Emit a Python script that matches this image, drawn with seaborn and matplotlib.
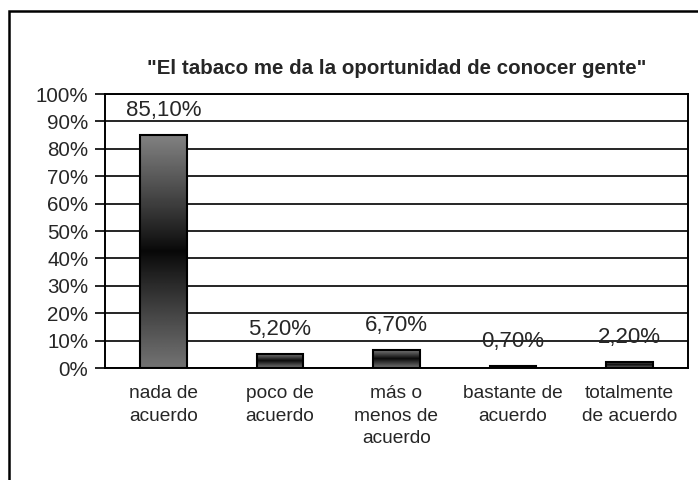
import numpy as np
import pandas as pd
import matplotlib
matplotlib.use("Agg")
import matplotlib.pyplot as plt
import seaborn as sns
from matplotlib.patches import Rectangle
from matplotlib.ticker import FuncFormatter, FixedLocator

# Chart data
title = '"El tabaco me da la oportunidad de conocer gente"'
categories = ["nada de\nacuerdo", "poco de\nacuerdo", "más o\nmenos de\nacuerdo",
              "bastante de\nacuerdo", "totalmente\nde acuerdo"]
values = [85.1, 5.2, 6.7, 0.7, 2.2]
value_labels = ["85,10%", "5,20%", "6,70%", "0,70%", "2,20%"]
y_ticks = list(range(0, 101, 10))

df = pd.DataFrame({"categoria": categories, "porcentaje": values})

sns.set_style("white")
plt.rcParams["font.family"] = ["Liberation Sans", "DejaVu Sans"]

W, H = 698, 480
fig = plt.figure(figsize=(W / 100, H / 100), dpi=100)
ax = fig.add_axes([105 / W, 1 - 368 / H, (688 - 105) / W, (368 - 94) / H])

sns.barplot(data=df, x="categoria", y="porcentaje", ax=ax, width=0.4,
            color="gray", edgecolor="black", linewidth=1.5, zorder=3)

# vertical gradient inside each bar: gray -> black -> gray
t = np.linspace(1, -1, 256)
shade = 0.03 + np.where(t > 0, 0.48, 0.42) * np.abs(t) ** 0.9
grad = shade.reshape(-1, 1)
for p in ax.patches:
    x0, y0 = p.get_x(), p.get_y()
    x1, y1 = x0 + p.get_width(), y0 + p.get_height()
    im = ax.imshow(grad, extent=[x0, x1, y0, y1], aspect="auto", cmap="gray",
                   vmin=0, vmax=1, origin="upper", zorder=2.5, interpolation="bilinear")
    im.set_clip_path(p)
    p.set_facecolor("none")

for i, (v, lab) in enumerate(zip(values, value_labels)):
    ax.annotate(lab, (i, v), xytext=(0, 10), textcoords="offset points",
                ha="center", va="bottom", fontsize=16, zorder=5)

ax.set_xlim(-0.5, len(categories) - 0.5)
ax.set_ylim(0, 100)
ax.set_yticks(y_ticks)
ax.yaxis.set_major_formatter(FuncFormatter(lambda v, _: f"{int(v)}%"))
ax.yaxis.grid(True, color="black", linewidth=1.2)
ax.set_axisbelow(True)

ax.set_xticks(range(len(categories)))
ax.set_xticklabels(categories, fontsize=13.8, linespacing=1.45, va="top")
ax.xaxis.set_minor_locator(FixedLocator([i - 0.5 for i in range(len(categories) + 1)]))
ax.tick_params(axis="x", which="major", length=0, pad=12)
ax.tick_params(axis="x", which="minor", length=5, width=1.2, color="black")
ax.tick_params(axis="y", length=7, width=1.2, color="black", labelsize=14.8, pad=5, left=True)
ax.set_xlabel("")
ax.set_ylabel("")

for s in ax.spines.values():
    s.set_visible(True)
    s.set_color("black")
    s.set_linewidth(1.4)

fig.text((105 + 688) / 2 / W, 1 - 68 / H, title, ha="center", va="center",
         fontsize=14.8, fontweight="bold")

# outer chart border
fig.patches.append(Rectangle((9 / W, -0.1), 1.0, 1 - 11 / H + 0.1,
                             transform=fig.transFigure, fill=False,
                             edgecolor="black", linewidth=1.8))

fig.savefig("out.png", dpi=100)
